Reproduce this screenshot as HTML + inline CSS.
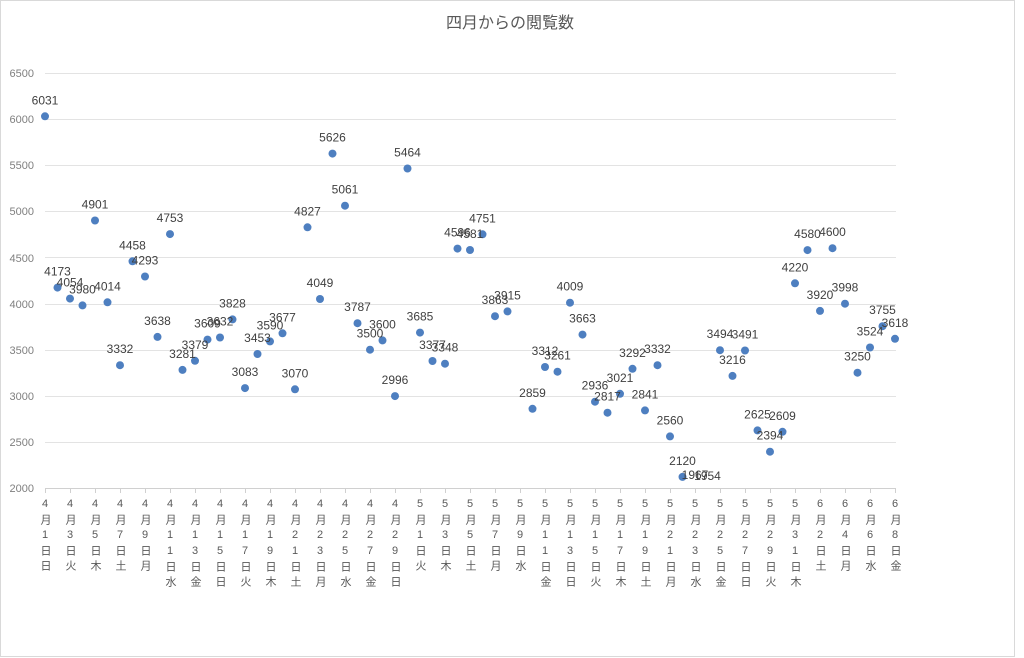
<!DOCTYPE html>
<html><head><meta charset="utf-8"><style>
body{margin:0;background:#fff;width:1024px;height:658px;overflow:hidden;position:relative;font-family:"Liberation Sans","Noto Sans CJK JP",sans-serif}
.f{position:absolute;left:0;top:0;width:1013px;height:655px;border:1px solid #d9d9d9}
svg{position:absolute;left:0;top:0}
.d{position:absolute;top:498px;width:14px;writing-mode:vertical-rl;text-orientation:upright;font-size:11px;letter-spacing:4px;line-height:14px;color:#595959;font-family:"Liberation Sans","Noto Sans CJK JP",sans-serif}
</style></head><body>
<div class="f"></div>
<svg width="1024" height="658" font-family="Liberation Sans, Noto Sans CJK JP, sans-serif">
<text x="510" y="28" text-anchor="middle" font-size="16" fill="#595959">四月からの閲覧数</text>
<g stroke="#e3e3e3" stroke-width="1">
<line x1="45" x2="896" y1="73.5" y2="73.5"/><line x1="45" x2="896" y1="119.5" y2="119.5"/><line x1="45" x2="896" y1="165.5" y2="165.5"/><line x1="45" x2="896" y1="211.5" y2="211.5"/><line x1="45" x2="896" y1="257.5" y2="257.5"/><line x1="45" x2="896" y1="304.5" y2="304.5"/><line x1="45" x2="896" y1="350.5" y2="350.5"/><line x1="45" x2="896" y1="396.5" y2="396.5"/><line x1="45" x2="896" y1="442.5" y2="442.5"/></g>
<g stroke="#d0d0d0"><line x1="45" x2="896" y1="488.5" y2="488.5"/>
<path d="M45.5 488v5M70.5 488v5M95.5 488v5M120.5 488v5M145.5 488v5M170.5 488v5M195.5 488v5M220.5 488v5M245.5 488v5M270.5 488v5M295.5 488v5M320.5 488v5M345.5 488v5M370.5 488v5M395.5 488v5M420.5 488v5M445.5 488v5M470.5 488v5M495.5 488v5M520.5 488v5M545.5 488v5M570.5 488v5M595.5 488v5M620.5 488v5M645.5 488v5M670.5 488v5M695.5 488v5M720.5 488v5M745.5 488v5M770.5 488v5M795.5 488v5M820.5 488v5M845.5 488v5M870.5 488v5M895.5 488v5"/></g>
<g font-size="11" fill="#7f7f7f" text-anchor="end">
<text x="34" y="77">6500</text><text x="34" y="123">6000</text><text x="34" y="169">5500</text><text x="34" y="215">5000</text><text x="34" y="262">4500</text><text x="34" y="308">4000</text><text x="34" y="354">3500</text><text x="34" y="400">3000</text><text x="34" y="446">2500</text><text x="34" y="492">2000</text></g>
<g fill="#4e7fc0">
<circle cx="45" cy="116.3" r="4"/><circle cx="57.5" cy="287.6" r="4"/><circle cx="70" cy="298.6" r="4"/><circle cx="82.5" cy="305.4" r="4"/><circle cx="95" cy="220.5" r="4"/><circle cx="107.5" cy="302.3" r="4"/><circle cx="120" cy="365.2" r="4"/><circle cx="132.5" cy="261.3" r="4"/><circle cx="145" cy="276.5" r="4"/><circle cx="157.5" cy="336.9" r="4"/><circle cx="170" cy="234.1" r="4"/><circle cx="182.5" cy="369.9" r="4"/><circle cx="195" cy="360.8" r="4"/><circle cx="207.5" cy="339.6" r="4"/><circle cx="220" cy="337.5" r="4"/><circle cx="232.5" cy="319.4" r="4"/><circle cx="245" cy="388.1" r="4"/><circle cx="257.5" cy="354" r="4"/><circle cx="270" cy="341.4" r="4"/><circle cx="282.5" cy="333.3" r="4"/><circle cx="295" cy="389.3" r="4"/><circle cx="307.5" cy="227.3" r="4"/><circle cx="320" cy="299" r="4"/><circle cx="332.5" cy="153.6" r="4"/><circle cx="345" cy="205.7" r="4"/><circle cx="357.5" cy="323.2" r="4"/><circle cx="370" cy="349.7" r="4"/><circle cx="382.5" cy="340.4" r="4"/><circle cx="395" cy="396.1" r="4"/><circle cx="407.5" cy="168.5" r="4"/><circle cx="420" cy="332.6" r="4"/><circle cx="432.5" cy="361" r="4"/><circle cx="445" cy="363.7" r="4"/><circle cx="457.5" cy="248.6" r="4"/><circle cx="470" cy="250" r="4"/><circle cx="482.5" cy="234.3" r="4"/><circle cx="495" cy="316.2" r="4"/><circle cx="507.5" cy="311.4" r="4"/><circle cx="532.5" cy="408.8" r="4"/><circle cx="545" cy="367" r="4"/><circle cx="557.5" cy="371.7" r="4"/><circle cx="570" cy="302.7" r="4"/><circle cx="582.5" cy="334.6" r="4"/><circle cx="595" cy="401.7" r="4"/><circle cx="607.5" cy="412.7" r="4"/><circle cx="620" cy="393.8" r="4"/><circle cx="632.5" cy="368.8" r="4"/><circle cx="645" cy="410.4" r="4"/><circle cx="657.5" cy="365.2" r="4"/><circle cx="670" cy="436.4" r="4"/><circle cx="682.5" cy="476.9" r="4"/><circle cx="720" cy="350.2" r="4"/><circle cx="732.5" cy="375.9" r="4"/><circle cx="745" cy="350.5" r="4"/><circle cx="757.5" cy="430.4" r="4"/><circle cx="770" cy="451.7" r="4"/><circle cx="782.5" cy="431.8" r="4"/><circle cx="795" cy="283.3" r="4"/><circle cx="807.5" cy="250.1" r="4"/><circle cx="820" cy="310.9" r="4"/><circle cx="832.5" cy="248.2" r="4"/><circle cx="845" cy="303.7" r="4"/><circle cx="857.5" cy="372.7" r="4"/><circle cx="870" cy="347.5" r="4"/><circle cx="882.5" cy="326.2" r="4"/><circle cx="895" cy="338.8" r="4"/></g>
<g font-size="12" fill="#404040" text-anchor="middle">
<text x="45" y="104.3">6031</text><text x="57.5" y="275.6">4173</text><text x="70" y="286.6">4054</text><text x="82.5" y="293.4">3980</text><text x="95" y="208.5">4901</text><text x="107.5" y="290.3">4014</text><text x="120" y="353.2">3332</text><text x="132.5" y="249.3">4458</text><text x="145" y="264.5">4293</text><text x="157.5" y="324.9">3638</text><text x="170" y="222.1">4753</text><text x="182.5" y="357.9">3281</text><text x="195" y="348.8">3379</text><text x="207.5" y="327.6">3609</text><text x="220" y="325.5">3632</text><text x="232.5" y="307.4">3828</text><text x="245" y="376.1">3083</text><text x="257.5" y="342">3453</text><text x="270" y="329.4">3590</text><text x="282.5" y="321.3">3677</text><text x="295" y="377.3">3070</text><text x="307.5" y="215.3">4827</text><text x="320" y="287">4049</text><text x="332.5" y="141.6">5626</text><text x="345" y="193.7">5061</text><text x="357.5" y="311.2">3787</text><text x="370" y="337.7">3500</text><text x="382.5" y="328.4">3600</text><text x="395" y="384.1">2996</text><text x="407.5" y="156.5">5464</text><text x="420" y="320.6">3685</text><text x="432.5" y="349">3377</text><text x="445" y="351.7">3348</text><text x="457.5" y="236.6">4596</text><text x="470" y="238">4581</text><text x="482.5" y="222.3">4751</text><text x="495" y="304.2">3863</text><text x="507.5" y="299.4">3915</text><text x="532.5" y="396.8">2859</text><text x="545" y="355">3312</text><text x="557.5" y="359.7">3261</text><text x="570" y="290.7">4009</text><text x="582.5" y="322.6">3663</text><text x="595" y="389.7">2936</text><text x="607.5" y="400.7">2817</text><text x="620" y="381.8">3021</text><text x="632.5" y="356.8">3292</text><text x="645" y="398.4">2841</text><text x="657.5" y="353.2">3332</text><text x="670" y="424.4">2560</text><text x="682.5" y="464.9">2120</text><text x="695" y="479">1967</text><text x="707.5" y="480">1954</text><text x="720" y="338.2">3494</text><text x="732.5" y="363.9">3216</text><text x="745" y="338.5">3491</text><text x="757.5" y="418.4">2625</text><text x="770" y="439.7">2394</text><text x="782.5" y="419.8">2609</text><text x="795" y="271.3">4220</text><text x="807.5" y="238.1">4580</text><text x="820" y="298.9">3920</text><text x="832.5" y="236.2">4600</text><text x="845" y="291.7">3998</text><text x="857.5" y="360.7">3250</text><text x="870" y="335.5">3524</text><text x="882.5" y="314.2">3755</text><text x="895" y="326.8">3618</text></g>
</svg>
<div class="d" style="left:38px">4月1日日</div>
<div class="d" style="left:63px">4月3日火</div>
<div class="d" style="left:88px">4月5日木</div>
<div class="d" style="left:113px">4月7日土</div>
<div class="d" style="left:138px">4月9日月</div>
<div class="d" style="left:163px">4月11日水</div>
<div class="d" style="left:188px">4月13日金</div>
<div class="d" style="left:213px">4月15日日</div>
<div class="d" style="left:238px">4月17日火</div>
<div class="d" style="left:263px">4月19日木</div>
<div class="d" style="left:288px">4月21日土</div>
<div class="d" style="left:313px">4月23日月</div>
<div class="d" style="left:338px">4月25日水</div>
<div class="d" style="left:363px">4月27日金</div>
<div class="d" style="left:388px">4月29日日</div>
<div class="d" style="left:413px">5月1日火</div>
<div class="d" style="left:438px">5月3日木</div>
<div class="d" style="left:463px">5月5日土</div>
<div class="d" style="left:488px">5月7日月</div>
<div class="d" style="left:513px">5月9日水</div>
<div class="d" style="left:538px">5月11日金</div>
<div class="d" style="left:563px">5月13日日</div>
<div class="d" style="left:588px">5月15日火</div>
<div class="d" style="left:613px">5月17日木</div>
<div class="d" style="left:638px">5月19日土</div>
<div class="d" style="left:663px">5月21日月</div>
<div class="d" style="left:688px">5月23日水</div>
<div class="d" style="left:713px">5月25日金</div>
<div class="d" style="left:738px">5月27日日</div>
<div class="d" style="left:763px">5月29日火</div>
<div class="d" style="left:788px">5月31日木</div>
<div class="d" style="left:813px">6月2日土</div>
<div class="d" style="left:838px">6月4日月</div>
<div class="d" style="left:863px">6月6日水</div>
<div class="d" style="left:888px">6月8日金</div>
</body></html>
